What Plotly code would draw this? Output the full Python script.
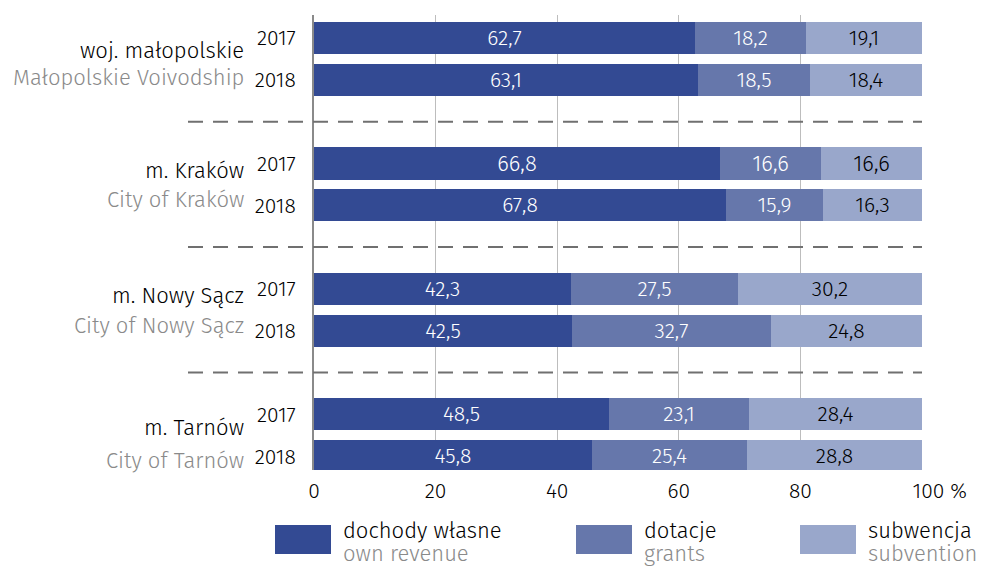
import plotly.graph_objects as go

# data
regions_pl = ["woj. małopolskie", "m. Kraków", "m. Nowy Sącz", "m. Tarnów"]
regions_en = ["Małopolskie Voivodship", "City of Kraków", "City of Nowy Sącz", "City of Tarnów"]
years = ["2017", "2018"]

own_revenue = [62.7, 63.1, 66.8, 67.8, 42.3, 42.5, 48.5, 45.8]
grants = [18.2, 18.5, 16.6, 15.9, 27.5, 32.7, 23.1, 25.4]
subvention = [19.1, 18.4, 16.6, 16.3, 30.2, 24.8, 28.4, 28.8]

series_pl = ["dochody własne", "dotacje", "subwencja"]
series_en = ["own revenue", "grants", "subvention"]
x_ticks = [0, 20, 40, 60, 80, 100]
x_ticktext = ["0", "20", "40", "60", "80", "\u00a0\u00a0\u00a0\u00a0\u00a0\u00a0100 %"]

colors = ["#334a93", "#6677ab", "#99a7cb"]
text_colors = ["white", "white", "black"]

FONT = "Fira Sans, Roboto, sans-serif"
GRAY = "#8a8a8a"
FS = 22

# figure fills the whole window (body margin removed below)
W, H = 995, 566
L, T = 314, 15
R = W - 922
B = H - 470
pw, ph = W - L - R, H - T - B

def px(x):
    return (x - L) / pw

def py(y):
    return 1 - (y - T) / ph

# row positions: 3 units per group, 1 unit between years
ypos = [g * 3 + i for g in range(len(regions_pl)) for i in range(len(years))]
ylabels = [y for _ in regions_pl for y in years]

fig = go.Figure()
for name, vals, col, tcol in zip(series_pl, [own_revenue, grants, subvention], colors, text_colors):
    fig.add_trace(go.Bar(
        y=ypos, x=vals, orientation="h", name=name,
        marker=dict(color=col, line=dict(width=0)),
        width=0.77,
        texttemplate="%{x:.1f}", textposition="inside", insidetextanchor="middle",
        textfont=dict(color=tcol, size=FS, family=FONT, weight=300),
        showlegend=False,
    ))

# dashed separators between groups
for g in range(len(regions_pl) - 1):
    fig.add_shape(type="line", xref="paper", yref="y",
                  x0=px(188), x1=1.0, y0=g * 3 + 2, y1=g * 3 + 2,
                  line=dict(color="#707070", width=2, dash="15px,10px"), layer="above")

# region names (vertical nudge per group, as in the original)
pl_off = [0.29, 0.17, 0.15, 0.31]
en_off = [0.95, 0.85, 0.87, 1.1]
for g, (pl, en) in enumerate(zip(regions_pl, regions_en)):
    fig.add_annotation(xref="paper", yref="y", x=px(246), y=g * 3 + pl_off[g], text=pl,
                       showarrow=False, xanchor="right",
                       font=dict(size=FS, color="black", family=FONT, weight=300))
    fig.add_annotation(xref="paper", yref="y", x=px(246), y=g * 3 + en_off[g], text=en,
                       showarrow=False, xanchor="right",
                       font=dict(size=FS, color=GRAY, family=FONT, weight=300))

# legend drawn manually
leg_x = [275, 576, 800]
for lx, col, pl, en in zip(leg_x, colors, series_pl, series_en):
    fig.add_shape(type="rect", xref="paper", yref="paper",
                  x0=px(lx), x1=px(lx + 56), y0=py(554), y1=py(525),
                  fillcolor=col, line=dict(width=0))
    fig.add_annotation(xref="paper", yref="paper", x=px(lx + 66), y=py(530), text=pl,
                       showarrow=False, xanchor="left", yanchor="middle",
                       font=dict(size=FS, color="black", family=FONT, weight=300))
    fig.add_annotation(xref="paper", yref="paper", x=px(lx + 66), y=py(553), text=en,
                       showarrow=False, xanchor="left", yanchor="middle",
                       font=dict(size=FS, color=GRAY, family=FONT, weight=300))

fig.update_layout(
    barmode="stack",
    width=W, height=H,
    margin=dict(l=L, r=R, t=T, b=B),
    plot_bgcolor="white", paper_bgcolor="white",
    separators=", ",
    font=dict(family=FONT, size=FS, color="black", weight=300),
    bargap=0,
    xaxis=dict(range=[0, 100], tickvals=x_ticks, ticktext=x_ticktext,
               showgrid=True, gridcolor="#bdbdbd", gridwidth=1, automargin=False,
               zeroline=False, showline=False, ticks="", ticklabelstandoff=6,
               tickfont=dict(size=21, weight=300)),
    yaxis=dict(range=[10.33, -0.55], tickvals=ypos, ticktext=ylabels, automargin=False,
               showgrid=False, zeroline=False, showline=True, linecolor="#8a8a8a", linewidth=2,
               ticks="", ticklabelstandoff=12, tickfont=dict(size=21, weight=300)),
)

fig.write_html("out.html", config={"displayModeBar": False},
               post_script="document.body.style.margin='0';document.body.style.overflow='hidden';")
